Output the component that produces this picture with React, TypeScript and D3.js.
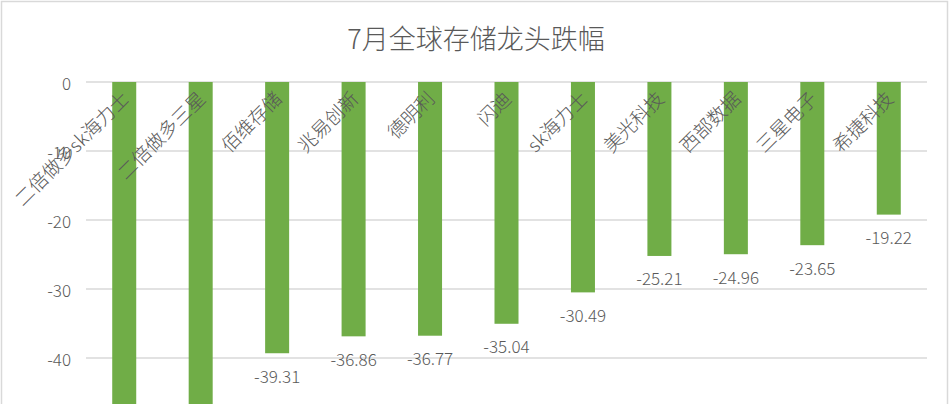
import React from "react";
import * as d3 from "d3";

const title = "7月全球存储龙头跌幅";
const categories = [
  "二倍做多sk海力士",
  "二倍做多三星",
  "佰维存储",
  "兆易创新",
  "德明利",
  "闪迪",
  "sk海力士",
  "美光科技",
  "西部数据",
  "三星电子",
  "希捷科技",
];
const values = [-57.3, -49.6, -39.31, -36.86, -36.77, -35.04, -30.49, -25.21, -24.96, -23.65, -19.22];
const yTicks = [0, -10, -20, -30, -40];

const W = 952;
const H = 404;
const FONT = "'Noto Sans CJK SC', 'Microsoft YaHei', sans-serif";
const TEXT = "#595959";
const GRID = "#D9D9D9";
const BAR = "#70AD47";

export default function App() {
  const x = d3
    .scaleBand<string>()
    .domain(categories)
    .range([86, 927])
    .paddingInner(0.686)
    .paddingOuter(0.343);
  const y = d3.scaleLinear().domain([0, -50]).range([82, 427]);

  return (
    <svg
      width={W}
      height={H}
      style={{ position: "absolute", left: 0, top: 0, background: "#fff" }}
      fontFamily={FONT}
    >
      <rect x={1.5} y={1.5} width={946} height={600} fill="#fff" stroke={GRID} strokeWidth={1.5} />
      <text x={476} y={37} textAnchor="middle" dominantBaseline="central" fontSize={27} fill={TEXT} fontWeight={300}>
        {title}
      </text>

      {yTicks.map((t) => (
        <g key={t}>
          <line x1={86} x2={927} y1={y(t)} y2={y(t)} stroke={GRID} strokeWidth={1.5} />
          <text x={71} y={y(t)} textAnchor="end" dominantBaseline="central" fontSize={17} fill={TEXT} fontWeight={300}>
            {t}
          </text>
        </g>
      ))}

      {categories.map((c, i) => {
        const v = values[i];
        const bx = x(c)!;
        const cx = bx + x.bandwidth() / 2;
        const ly = y(v) + 22;
        return (
          <g key={c}>
            <rect x={bx} y={y(0)} width={x.bandwidth()} height={y(v) - y(0)} fill={BAR} />
            {ly < H - 10 && (
              <text x={cx} y={ly} textAnchor="middle" dominantBaseline="central" fontSize={17} fill={TEXT} fontWeight={300}>
                {v.toFixed(2)}
              </text>
            )}
          </g>
        );
      })}

      {categories.map((c) => {
        const cx = x(c)! + x.bandwidth() / 2;
        const ay = 94;
        return (
          <text
            key={"l" + c}
            x={cx}
            y={ay}
            transform={`rotate(-45 ${cx} ${ay})`}
            textAnchor="end"
            dominantBaseline="central"
            fontSize={19}
            fill={TEXT}
            fontWeight={300}
          >
            {c}
          </text>
        );
      })}
    </svg>
  );
}
